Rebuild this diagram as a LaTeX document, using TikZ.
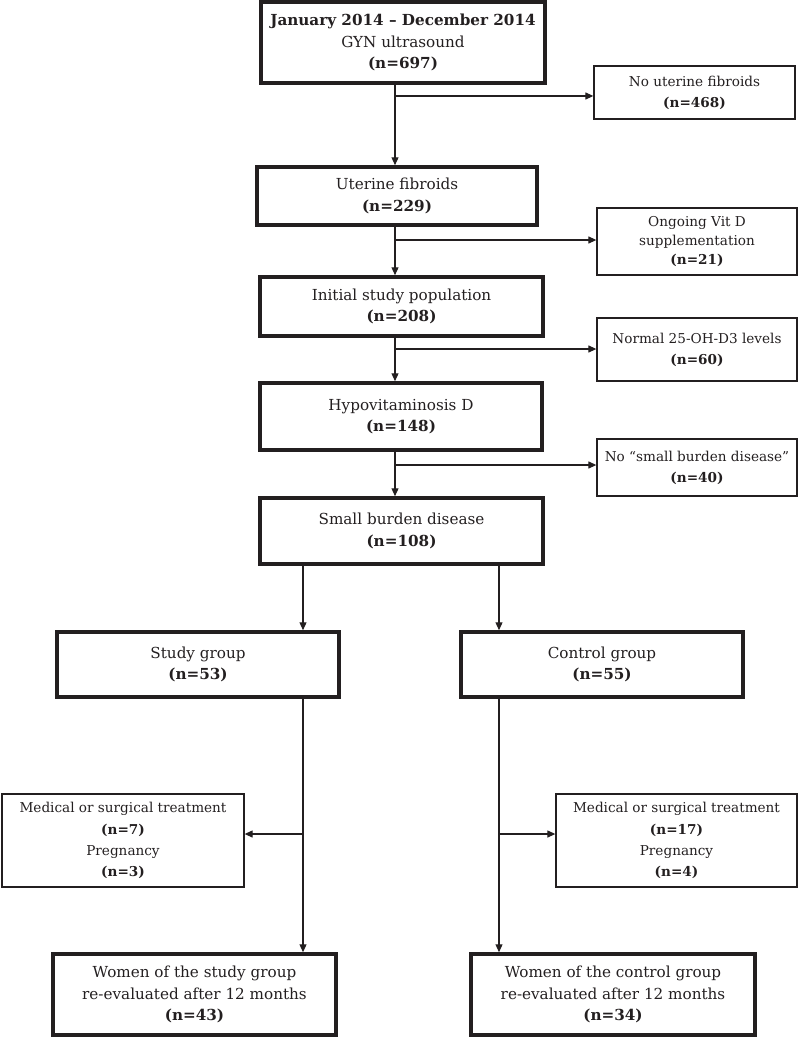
\documentclass[tikz,border=0pt]{standalone}
\usepackage{fontspec}
\setmainfont{DejaVu Serif}
\usetikzlibrary{arrows.meta,calc}
\definecolor{ink}{RGB}{35,31,32}
\begin{document}
\begin{tikzpicture}[x=1pt,y=-1pt,
  every node/.style={text=ink, align=center, inner sep=0pt},
  bigbox/.style={draw=ink, line width=3.5pt, minimum width=#1, font=\fontsize{15.2}{21.5}\selectfont},
  bigbox/.default=282,
  sidebox/.style={draw=ink, line width=1.3pt, minimum width=#1, font=\fontsize{13.6}{21.2}\selectfont},
  sidebox/.default=200,
  arr/.style={draw=ink, line width=1.2pt, -{Triangle[length=8pt,width=7pt]}},
  ln/.style={draw=ink, line width=1.2pt}
]
\useasboundingbox (0,0) rectangle (800,1038);

% main column
\node[bigbox=284, minimum height=81] (top) at (403,42.5) {\textbf{January 2014 – December 2014}\\GYN ultrasound\\\textbf{(n=697)}};
\node[bigbox=280, minimum height=58] (b2) at (397,196) {Uterine fibroids\\\textbf{(n=229)}};
\node[bigbox=283, minimum height=59] (b3) at (401.5,306.5) {Initial study population\\\textbf{(n=208)}};
\node[bigbox=282, minimum height=67] (b4) at (401,416.5) {Hypovitaminosis D\\\textbf{(n=148)}};
\node[bigbox=283, minimum height=66] (b5) at (401.5,531) {Small burden disease\\\textbf{(n=108)}};

% exclusion boxes
\node[sidebox=201, minimum height=53] (nou) at (694.5,92.5) {No uterine fibroids\\\textbf{(n=468)}};
\node[sidebox=200, minimum height=67, font=\fontsize{13.6}{19}\selectfont] (ong) at (697,241.5) {Ongoing Vit D\\supplementation\\\textbf{(n=21)}};
\node[sidebox=200, minimum height=63] (nor) at (697,349.5) {Normal 25-OH-D3 levels\\\textbf{(n=60)}};
\node[sidebox=200, minimum height=57] (nos) at (697,467.5) {No “small burden disease”\\\textbf{(n=40)}};

% groups
\node[bigbox=282, minimum height=65] (b6) at (198,664.5) {Study group\\\textbf{(n=53)}};
\node[bigbox=282, minimum height=65] (b7) at (602,664.5) {Control group\\\textbf{(n=55)}};

\node[sidebox=242, minimum height=93] (sl) at (123,840.5) {Medical or surgical treatment\\\textbf{(n=7)}\\Pregnancy\\\textbf{(n=3)}};
\node[sidebox=241, minimum height=93] (sr) at (676.5,840.5) {Medical or surgical treatment\\\textbf{(n=17)}\\Pregnancy\\\textbf{(n=4)}};

\node[bigbox=283, minimum height=81] (fl) at (194.5,994.5) {Women of the study group\\re-evaluated after 12 months\\\textbf{(n=43)}};
\node[bigbox=284, minimum height=81] (fr) at (613,994.5) {Women of the control group\\re-evaluated after 12 months\\\textbf{(n=34)}};

% junction coordinates
\coordinate (j1) at (395,96);
\coordinate (j2) at (395,240);
\coordinate (j3) at (395,349);
\coordinate (j4) at (395,465);
\coordinate (k1) at (303,600);
\coordinate (k2) at (499,600);
\coordinate (m1) at (303,834);
\coordinate (m2) at (499,834);

% main vertical arrows
\draw[arr] (j1 |- top.south) -- (j1 |- b2.north);
\draw[arr] (j2 |- b2.south) -- (j2 |- b3.north);
\draw[arr] (j3 |- b3.south) -- (j3 |- b4.north);
\draw[arr] (j4 |- b4.south) -- (j4 |- b5.north);

% branches to exclusion boxes
\draw[arr] (j1) -- (j1 -| nou.west);
\draw[arr] (j2) -- (j2 -| ong.west);
\draw[arr] (j3) -- (j3 -| nor.west);
\draw[arr] (j4) -- (j4 -| nos.west);

% split into groups
\draw[arr] (k1 |- b5.south) -- (k1 |- b6.north);
\draw[arr] (k2 |- b5.south) -- (k2 |- b7.north);

% group to final
\draw[arr] (k1 |- b6.south) -- (k1 |- fl.north);
\draw[arr] (k2 |- b7.south) -- (k2 |- fr.north);

% side exits
\draw[arr] (m1) -- (m1 -| sl.east);
\draw[arr] (m2) -- (m2 -| sr.west);
\end{tikzpicture}
\end{document}
